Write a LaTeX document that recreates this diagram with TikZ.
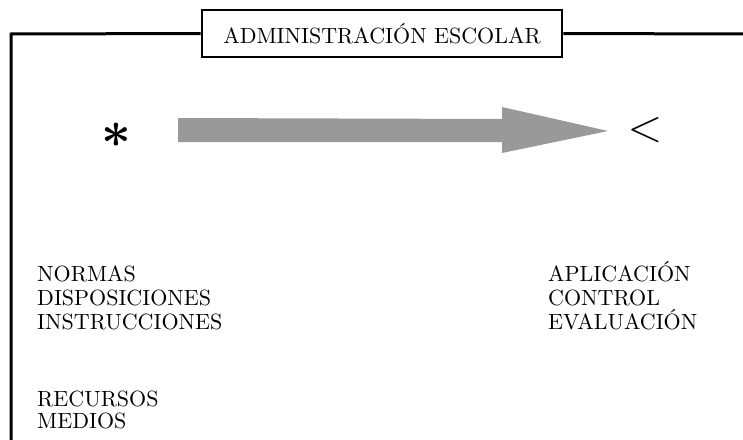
\documentclass[tikz,border=0pt]{standalone}
\usepackage{amsmath}
\usepackage{fontspec}
\setmainfont{lmroman10-regular.otf}
\usepackage{graphicx}
\usetikzlibrary{positioning,calc}

\definecolor{arrowgray}{RGB}{153,153,153}

\tikzset{
  frame/.style={line width=3pt},
  titlebox/.style={draw, line width=2.7pt, minimum width=360pt, minimum height=47pt, inner sep=0pt},
  word/.style={anchor=base west, inner sep=0pt},
  bigfont/.style={font=\fontsize{22}{24}\selectfont}
}

\begin{document}
\begin{tikzpicture}[x=1pt, y=-1pt, bigfont]
  \useasboundingbox (0,0) rectangle (743,439);

  % Title box and the frame around it
  \node[titlebox] (title) at (382,33.5) {ADMINISTRACIÓN ESCOLAR};
  \coordinate (corner) at (11,34);
  \coordinate (bottom) at (11,441);
  \coordinate (rightend) at (745,34);
  \draw[frame] (bottom) -- (corner) -- (title.west);
  \draw[frame] (title.east) -- (rightend);

  % Start and end marks
  \node[inner sep=0pt] (start) at (116,135) {\scalebox{2.5}{$\boldsymbol{\ast}$}};
  \node[inner sep=0pt] (goal) at (645,130) {\scalebox{2.2}{$<$}};

  % Big gray arrow from start to goal
  \coordinate (tail) at ($(start.center)+(62,-5)$);
  \coordinate (tip) at ($(goal.center)+(-37,1)$);
  \fill[arrowgray] ($(tail)+(0,-12)$) -- ($(tip)+(-106,-12)$) -- ($(tip)+(-106,-24)$)
    -- (tip) -- ($(tip)+(-106,22)$) -- ($(tip)+(-106,11)$) -- ($(tail)+(0,12)$) -- cycle;

  % Left column
  \foreach \txt [count=\i] in {NORMAS,DISPOSICIONES,INSTRUCCIONES}
    \node[word] (left\i) at (37,257+24*\i) {\txt};
  \node[word] (recursos) at (37,406) {RECURSOS};
  \node[word] (medios) at (37,428) {MEDIOS};

  % Right column
  \foreach \txt [count=\i] in {APLICACIÓN,CONTROL,EVALUACIÓN}
    \node[word] (right\i) at (548,257+24*\i) {\txt};

\end{tikzpicture}
\end{document}
